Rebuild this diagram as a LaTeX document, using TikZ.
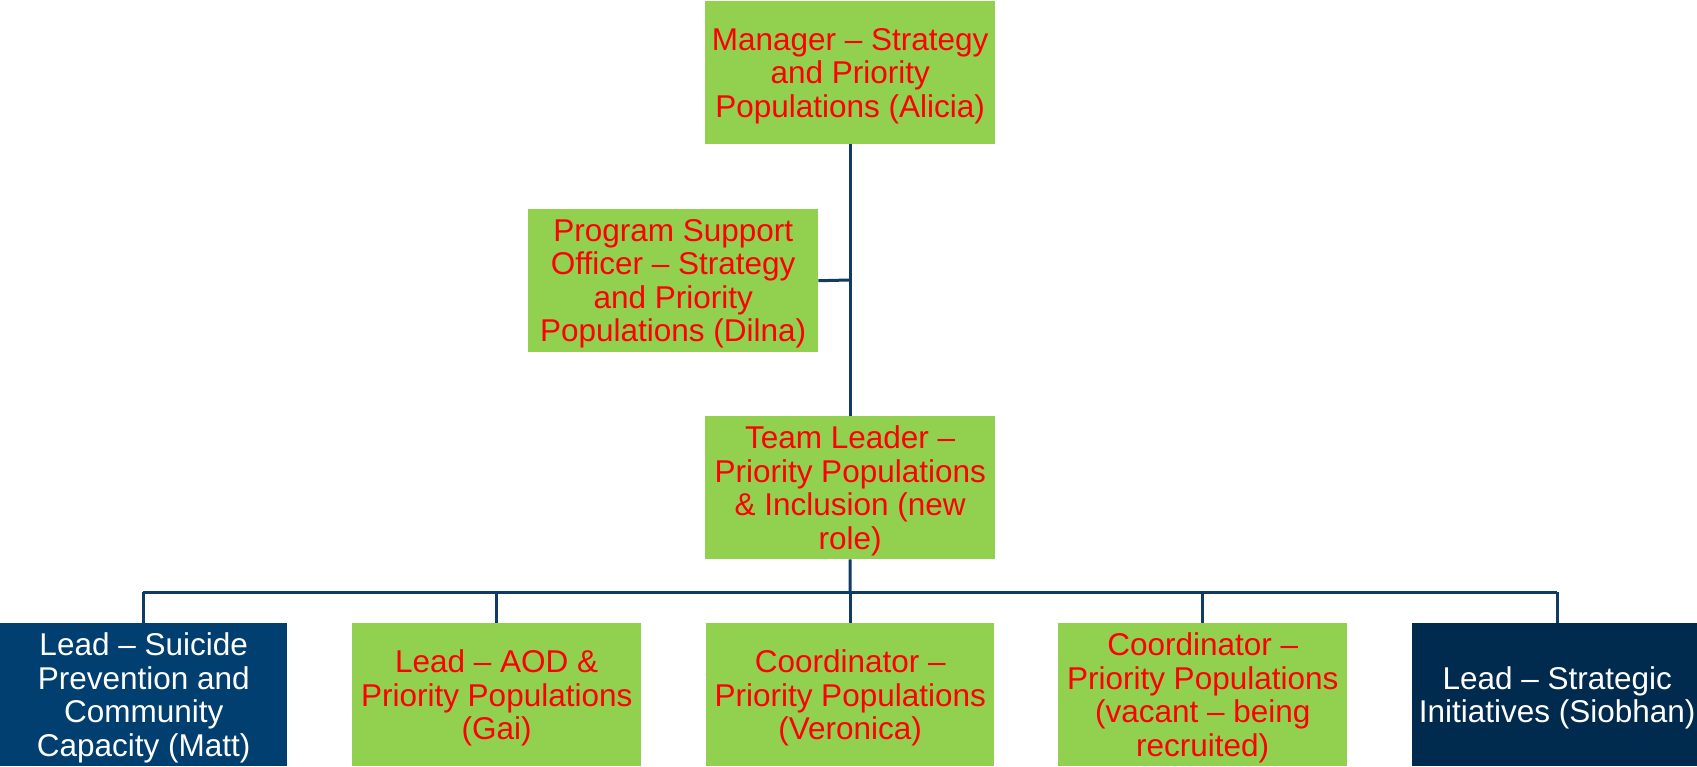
\documentclass[tikz,border=0pt]{standalone}
\usepackage{fontspec}
\setmainfont{Liberation Sans}
\definecolor{boxgreen}{HTML}{92D050}
\definecolor{txtred}{HTML}{FF0000}
\definecolor{navyA}{HTML}{003F6F}
\definecolor{navyB}{HTML}{002B4E}
\definecolor{linenavy}{HTML}{0F3B64}
\begin{document}
\begin{tikzpicture}[x=1pt,y=-1pt,
  rolebox/.style={rectangle, inner sep=0pt, anchor=north west, minimum height=143pt},
  roletext/.style={inner sep=0pt, align=center, yshift=-3.3pt,
    font=\fontsize{31.5}{33.5}\selectfont},
  greenrole/.style={rolebox, fill=boxgreen, label={[roletext, text=txtred]center:{#1}}},
  navyrole/.style={rolebox, fill=navyA, label={[roletext, text=white]center:{#1}}},
  darkrole/.style={rolebox, fill=navyB, label={[roletext, text=white]center:{#1}}},
  link/.style={draw=linenavy, line width=3pt}]
\useasboundingbox (0,0) rectangle (1697,766);
\clip (0,0) rectangle (1697,766);
% top level
\node[greenrole={Manager – Strategy\\and Priority\\Populations (Alicia)},
  minimum width=290pt] (mgr) at (705,1) {};
\node[greenrole={Program Support\\Officer – Strategy\\and Priority\\Populations (Dilna)},
  minimum width=290pt] (pso) at (528,209) {};
\node[greenrole={Team Leader –\\Priority Populations\\\& Inclusion (new\\role)},
  minimum width=290pt] (tl) at (705,416) {};
% bottom level
\node[navyrole={Lead – Suicide\\Prevention and\\Community\\Capacity (Matt)},
  minimum width=287pt] (b1) at (0,623) {};
\node[greenrole={Lead – AOD \&\\Priority Populations\\(Gai)},
  minimum width=289pt] (b2) at (352,623) {};
\node[greenrole={Coordinator –\\Priority Populations\\(Veronica)},
  minimum width=288pt] (b3) at (706,623) {};
\node[greenrole={Coordinator –\\Priority Populations\\(vacant – being\\recruited)},
  minimum width=289pt] (b4) at (1058,623) {};
\node[darkrole={Lead – Strategic\\Initiatives (Siobhan)},
  minimum width=290pt] (b5) at (1412,623) {};
% connectors
\coordinate (junc) at (850,280);
\coordinate (bus) at (850,592);
\coordinate (busL) at (143,592);
\coordinate (busR) at (1557,592);
\draw[link] (mgr.south) -- (tl.north);
\draw[link] (pso.east) -- (junc);
\draw[link] (tl.south) -- (bus);
\draw[link] (busL) -- (busR);
\draw[link] (busL) -- (busL |- b1.north);
\draw[link] (b2.north |- bus) -- (b2.north);
\draw[link] (b3.north |- bus) -- (b3.north);
\draw[link] (b4.north |- bus) -- (b4.north);
\draw[link] (busR) -- (busR |- b5.north);
\end{tikzpicture}
\end{document}
